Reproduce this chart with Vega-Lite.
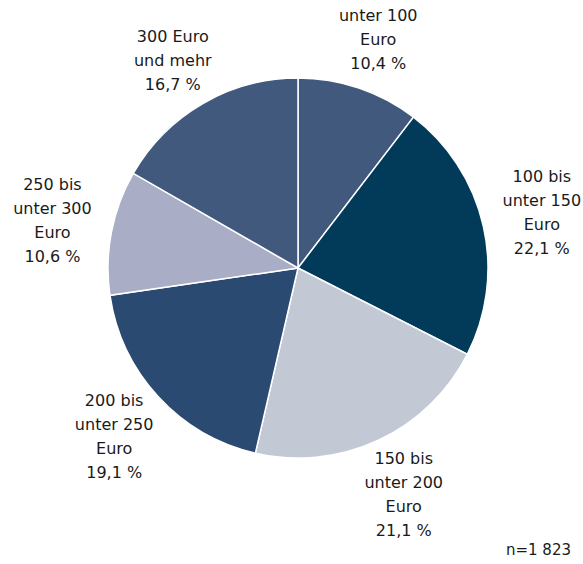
{
  "$schema": "https://vega.github.io/schema/vega-lite/v6.json",
  "width": 546,
  "height": 536,
  "autosize": {"type": "none"},
  "padding": {"left": 25, "top": 0, "right": 12, "bottom": 28},
  "background": "white",
  "title": {
    "text": "n=1 823",
    "orient": "bottom",
    "anchor": "end",
    "frame": "group",
    "offset": 4,
    "font": "DejaVu Sans",
    "fontSize": 15,
    "fontWeight": "normal",
    "color": "#1a1a1a"
  },
  "data": {
    "values": [
      {"Rang": 1, "Kategorie": "unter 100\nEuro", "Anteil": 10.4},
      {"Rang": 2, "Kategorie": "100 bis\nunter 150\nEuro", "Anteil": 22.1},
      {"Rang": 3, "Kategorie": "150 bis\nunter 200\nEuro", "Anteil": 21.1},
      {"Rang": 4, "Kategorie": "200 bis\nunter 250\nEuro", "Anteil": 19.1},
      {"Rang": 5, "Kategorie": "250 bis\nunter 300\nEuro", "Anteil": 10.6},
      {"Rang": 6, "Kategorie": "300 Euro\nund mehr", "Anteil": 16.7}
    ]
  },
  "transform": [
    {"calculate": "datum.Kategorie + '\\n' + replace(format(datum.Anteil, '.1f'), '.', ',') + ' %'", "as": "Beschriftung"},
    {"stack": "Anteil", "groupby": [], "sort": [{"field": "Rang", "order": "ascending"}], "as": ["Start", "Ende"]},
    {"calculate": "(datum.Start + datum.Ende) / 2", "as": "Mitte"}
  ],
  "layer": [
    {
      "mark": {"type": "arc", "outerRadius": 190, "stroke": "white", "strokeWidth": 1.5},
      "encoding": {
        "theta": {"field": "Start", "type": "quantitative", "scale": {"domain": [0, 100]}},
        "theta2": {"field": "Ende"},
        "color": {
          "field": "Rang",
          "type": "nominal",
          "scale": {
            "domain": [1, 2, 3, 4, 5, 6],
            "range": ["#41597d", "#023a5a", "#c3c8d5", "#2b4a72", "#a9adc6", "#41597d"]
          },
          "legend": null
        }
      }
    },
    {
      "transform": [{"filter": "datum.Rang == 1 || datum.Rang == 6"}],
      "mark": {
        "type": "text",
        "radius": 250,
        "dy": -15,
        "font": "DejaVu Sans",
        "fontSize": 16,
        "lineHeight": 24,
        "lineBreak": "\n",
        "align": "center",
        "baseline": "middle",
        "color": "#1a1a1a"
      },
      "encoding": {
        "theta": {"field": "Mitte", "type": "quantitative", "scale": {"domain": [0, 100]}},
        "text": {"field": "Beschriftung", "type": "nominal"}
      }
    },
    {
      "transform": [{"filter": "datum.Rang != 1 && datum.Rang != 6"}],
      "mark": {
        "type": "text",
        "radius": 250,
        "dy": -36,
        "font": "DejaVu Sans",
        "fontSize": 16,
        "lineHeight": 24,
        "lineBreak": "\n",
        "align": "center",
        "baseline": "middle",
        "color": "#1a1a1a"
      },
      "encoding": {
        "theta": {"field": "Mitte", "type": "quantitative", "scale": {"domain": [0, 100]}},
        "text": {"field": "Beschriftung", "type": "nominal"}
      }
    }
  ],
  "config": {"view": {"stroke": null}}
}
